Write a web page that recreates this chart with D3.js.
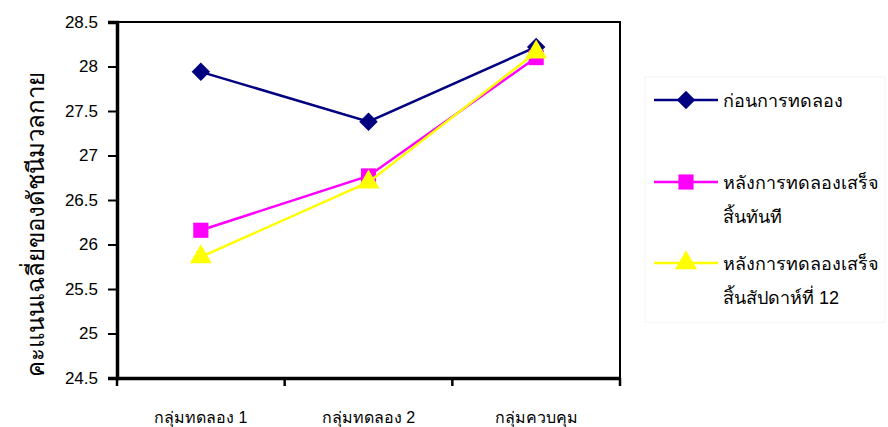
<!DOCTYPE html>
<html>
<head>
<meta charset="utf-8">
<script src="https://cdn.jsdelivr.net/npm/d3@7"></script>
<style>
  body { margin: 0; background: #fff; }
  svg { font-family: 'Liberation Sans', Arial, sans-serif; }
</style>
</head>
<body>
<div id="chart"></div>
<script>
const categories = ['กลุ่มทดลอง 1', 'กลุ่มทดลอง 2', 'กลุ่มควบคุม'];
const before = [27.94, 27.38, 28.22];
const afterNow = [26.16, 26.77, 28.1];
const afterWeek12 = [25.86, 26.7, 28.16];
const yTicks = [24.5, 25, 25.5, 26, 26.5, 27, 27.5, 28, 28.5];

// square diamond (d3.symbolDiamond is elongated)
const squareDiamond = {
  draw(context, size) {
    const r = Math.sqrt(size / 2);
    context.moveTo(0, -r);
    context.lineTo(r, 0);
    context.lineTo(0, r);
    context.lineTo(-r, 0);
    context.closePath();
  },
};

const series = [
  { name: ['ก่อนการทดลอง'], values: before, color: '#000080', shape: squareDiamond, size: 170 },
  { name: ['หลังการทดลองเสร็จ', 'สิ้นทันที'], values: afterNow, color: '#ff00ff', shape: d3.symbolSquare, size: 230 },
  { name: ['หลังการทดลองเสร็จ', 'สิ้นสัปดาห์ที่ 12'], values: afterWeek12, color: '#ffff00', shape: d3.symbolTriangle, size: 210 },
];

const size = { width: 888, height: 427 };
const margin = { top: 22, right: 268, bottom: 49, left: 117 };

const svg = d3
  .select('#chart')
  .append('svg')
  .attr('width', size.width)
  .attr('height', size.height);

const x = d3
  .scaleBand()
  .domain(categories)
  .range([margin.left, size.width - margin.right]);

const y = d3
  .scaleLinear()
  .domain([24.5, 28.5])
  .range([size.height - margin.bottom, margin.top]);

// plot frame
svg
  .append('rect')
  .attr('x', margin.left)
  .attr('y', margin.top)
  .attr('width', size.width - margin.right - margin.left)
  .attr('height', size.height - margin.bottom - margin.top)
  .attr('fill', '#fff')
  .attr('stroke', '#000')
  .attr('stroke-width', 2);

// y axis
const yAxis = svg
  .append('g')
  .attr('transform', `translate(${margin.left}, 0)`)
  .call(d3.axisLeft(y).tickValues(yTicks).tickSize(9).tickFormat((d) => d));
yAxis.select('.domain').attr('stroke-width', 3.5);
yAxis.selectAll('.tick line').attr('stroke-width', 2);
yAxis.selectAll('.tick text').attr('font-size', '17px').attr('fill', '#000').attr('x', -19);

// x axis
const xAxis = svg
  .append('g')
  .attr('transform', `translate(0, ${size.height - margin.bottom})`)
  .call(d3.axisBottom(x).tickSize(0).tickSizeOuter(0));
xAxis.select('.domain').attr('stroke-width', 3.5);
xAxis.selectAll('.tick text').attr('font-size', '16px').attr('fill', '#000').attr('dy', '2.6em');

// band boundary ticks
xAxis
  .selectAll('.bound')
  .data(d3.range(categories.length + 1))
  .enter()
  .append('line')
  .attr('x1', (i) => (i < categories.length ? x(categories[i]) : x.range()[1]))
  .attr('x2', (i) => (i < categories.length ? x(categories[i]) : x.range()[1]))
  .attr('y1', 0)
  .attr('y2', 8)
  .attr('stroke', '#000')
  .attr('stroke-width', 2.5);

// y title
svg
  .append('text')
  .attr('transform', `translate(44, ${(margin.top + size.height - margin.bottom) / 2 + 24}) rotate(-90)`)
  .attr('text-anchor', 'middle')
  .attr('font-size', '24px')
  .text('คะแนนเฉลี่ยของดัชนีมวลกาย');

const cx = (c) => x(c) + x.bandwidth() / 2;

const line = d3
  .line()
  .x((d, i) => cx(categories[i]))
  .y((d) => y(d));

series.forEach((s) => {
  svg
    .append('path')
    .datum(s.values)
    .attr('d', line)
    .attr('fill', 'none')
    .attr('stroke', s.color)
    .attr('stroke-width', 2.5);

  svg
    .selectAll(null)
    .data(s.values)
    .enter()
    .append('path')
    .attr('d', d3.symbol().type(s.shape).size(s.size))
    .attr('transform', (d, i) => `translate(${cx(categories[i])}, ${y(d)})`)
    .attr('fill', s.color);
});

// legend
const legend = svg.append('g').attr('transform', 'translate(645, 77)');
legend
  .append('rect')
  .attr('width', 240)
  .attr('height', 245)
  .attr('fill', 'none')
  .attr('stroke', '#f4f4f4');

const rows = [23, 105, 186];
series.forEach((s, i) => {
  const g = legend.append('g').attr('transform', `translate(0, ${rows[i]})`);
  g.append('line')
    .attr('x1', 9)
    .attr('x2', 73)
    .attr('stroke', s.color)
    .attr('stroke-width', 2.5);
  g.append('path')
    .attr('d', d3.symbol().type(s.shape).size(s.size))
    .attr('transform', 'translate(41, 0)')
    .attr('fill', s.color);
  s.name.forEach((t, j) => {
    g.append('text')
      .attr('x', 78)
      .attr('y', j * 34 + 7)
      .attr('font-size', '18px')
      .text(t);
  });
});
</script>
</body>
</html>
